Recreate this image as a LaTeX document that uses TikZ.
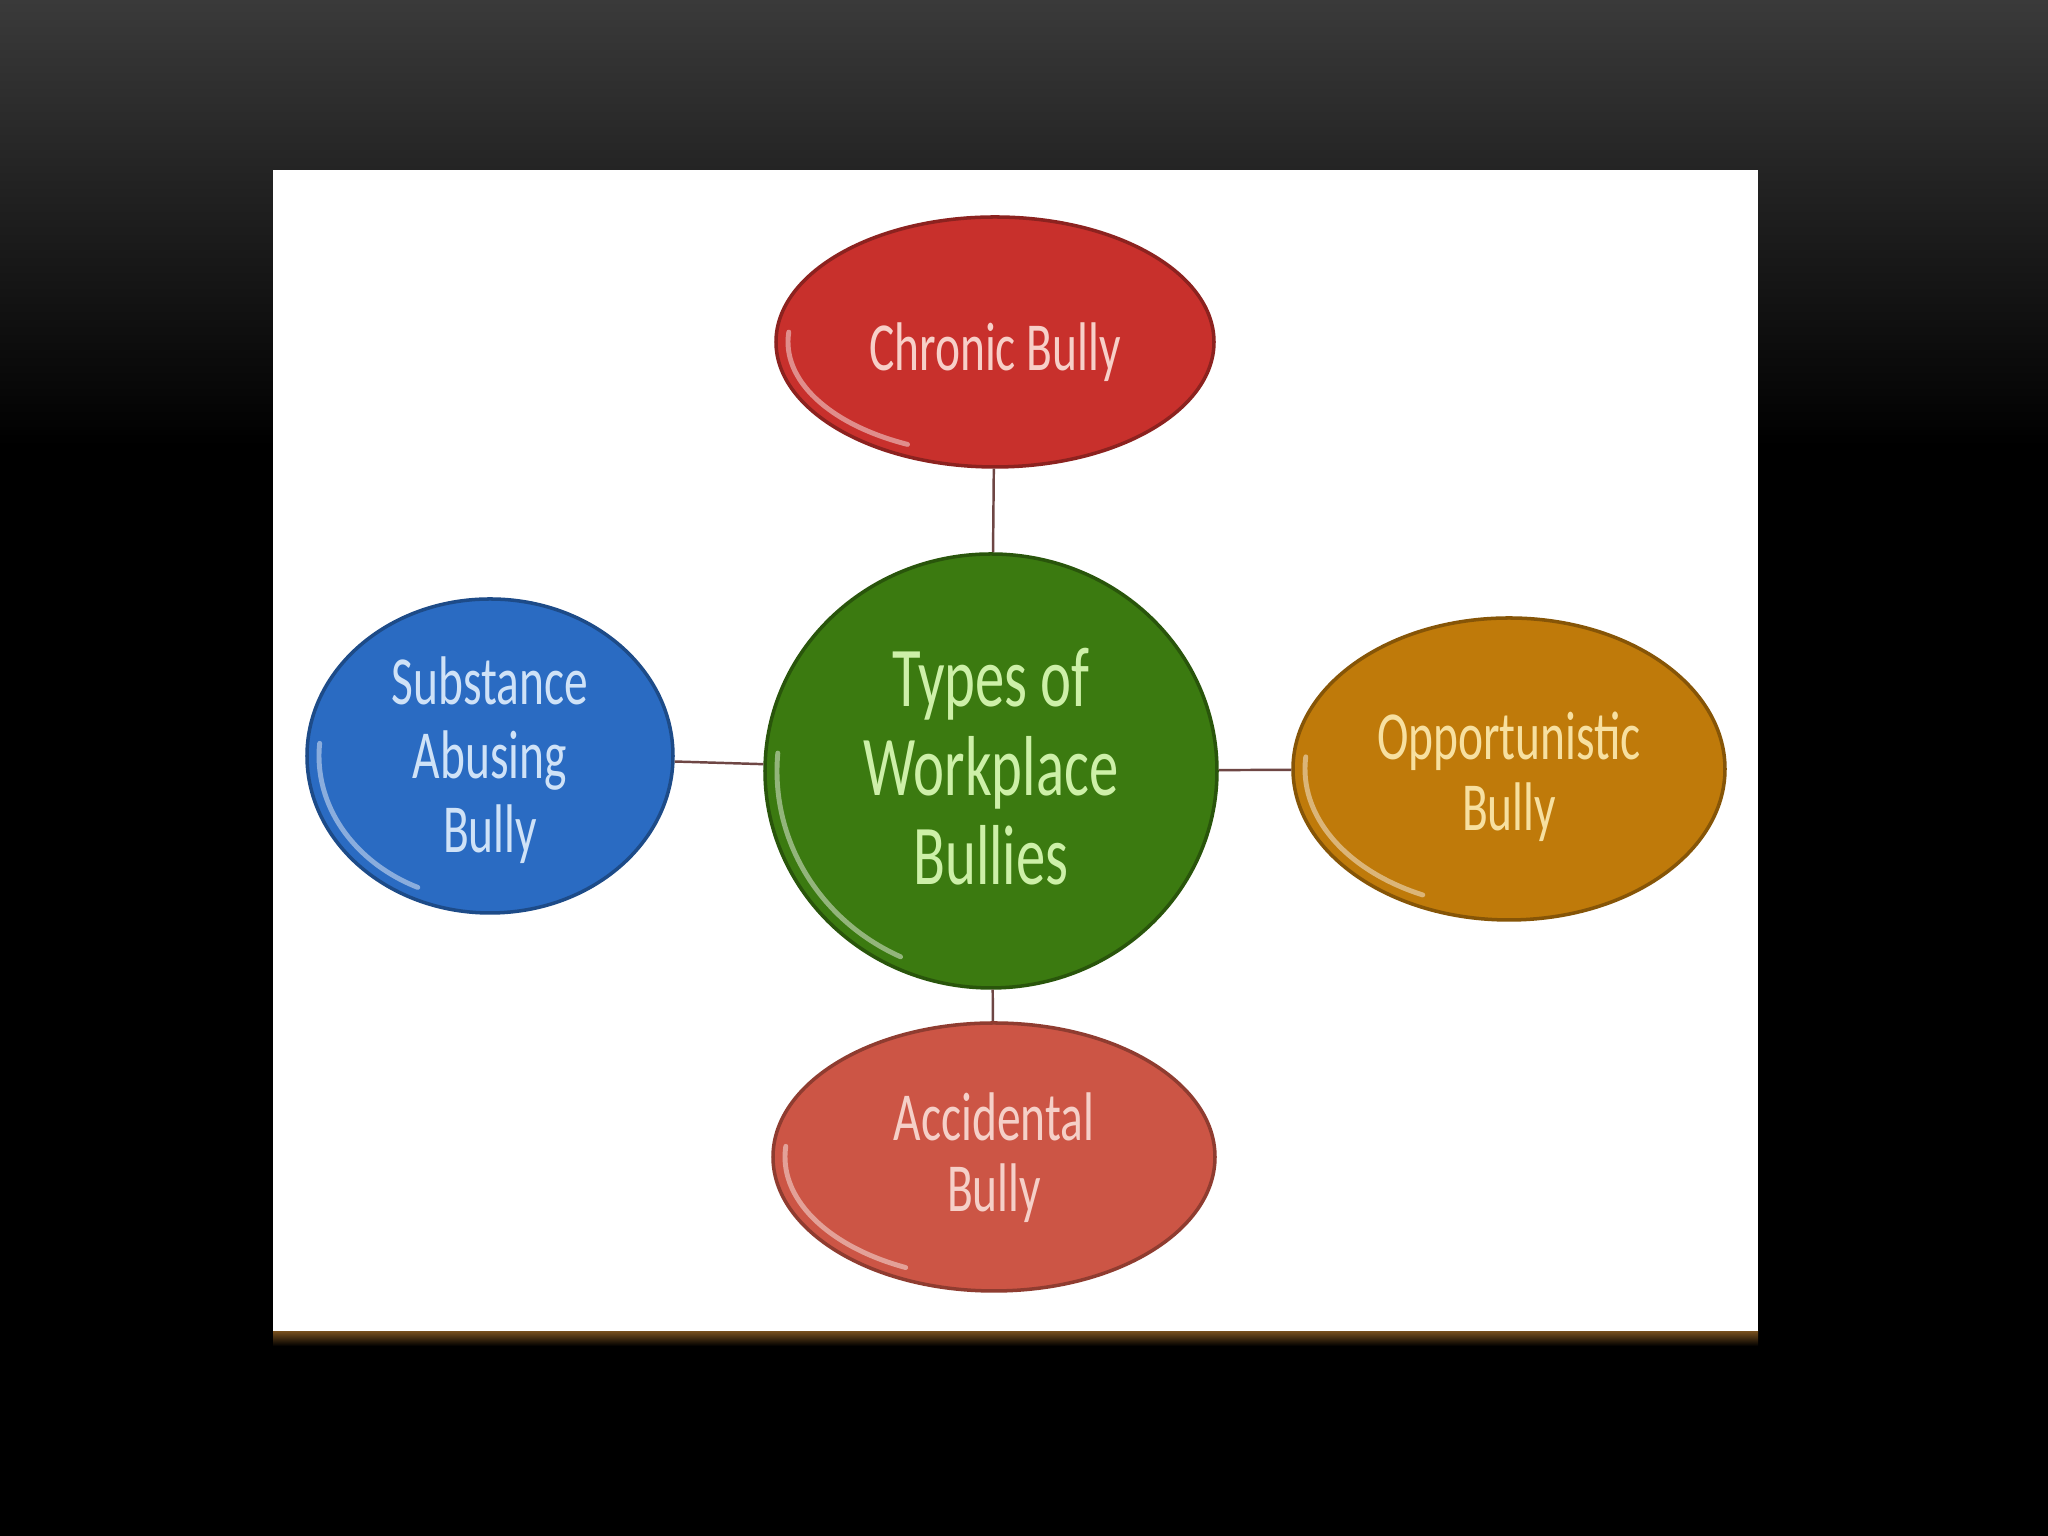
\documentclass[tikz,border=0pt]{standalone}
\usepackage{fontspec}
\setmainfont{Carlito}
\usetikzlibrary{shapes,calc}

\definecolor{chronicred}{RGB}{200,48,44}
\definecolor{chronictxt}{RGB}{247,207,200}
\definecolor{typesgreen}{RGB}{59,122,16}
\definecolor{typestxt}{RGB}{205,240,168}
\definecolor{subblue}{RGB}{42,107,194}
\definecolor{subtxt}{RGB}{207,226,247}
\definecolor{oppgold}{RGB}{191,122,10}
\definecolor{opptxt}{RGB}{247,224,160}
\definecolor{accred}{RGB}{204,85,69}
\definecolor{acctxt}{RGB}{245,208,200}
\definecolor{linkcol}{RGB}{110,70,68}

% text in the picture is drawn a bit tall (and a bit low)
\newcommand{\stretchtxt}[2][1.6mm]{\raisebox{0pt}[\dimexpr\height+#1\relax][\depth]{%
  \scalebox{1}[1.45]{\begin{tabular}{@{}c@{}}#2\end{tabular}}}}

\tikzset{
  bubble/.style n args={4}{ellipse, fill=#1, draw=#1!70!black, line width=1pt,
    text=#2, minimum width=#3, minimum height=#4, inner sep=0pt,
    font=\fontsize{13.5}{13.8}\selectfont,
    path picture={\draw[white, opacity=.45, line width=1.4pt, line cap=round]
      ($(path picture bounding box.center)+(175:{#3/2-0.12cm} and {#4/2-0.12cm})$)
      arc[start angle=175, end angle=245, x radius={#3/2-0.12cm}, y radius={#4/2-0.12cm}];}},
  link/.style={draw=linkcol, line width=0.7pt}
}

\begin{document}
\begin{tikzpicture}
    % slide background
    \useasboundingbox (0,0) rectangle (20.48,15.36);
    \fill[black] (0,0) rectangle (20.48,15.36);
    \shade[top color={rgb,255:red,58;green,58;blue,58}, bottom color=black] (0,15.36) rectangle (20.48,10.9);
    \shade[top color={rgb,255:red,120;green,80;blue,30}, bottom color=black] (2.73,2.05) rectangle (17.58,1.9);
    \fill[white] (2.73,2.05) rectangle (17.58,13.66);

    \node[bubble={typesgreen}{typestxt}{4.52cm}{4.34cm}, font=\fontsize{16.7}{17.5}\selectfont] (types) at (9.91,7.65)
        {\stretchtxt[1.3mm]{Types of\\Workplace\\Bullies}};
    \node[bubble={chronicred}{chronictxt}{4.38cm}{2.50cm}] (chronic) at (9.95,11.94) {\stretchtxt[2.8mm]{Chronic Bully}};
    \node[bubble={subblue}{subtxt}{3.66cm}{3.14cm}, font=\fontsize{13.5}{14.5}\selectfont, inner sep=-2mm] (substance) at (4.90,7.80)
        {\stretchtxt{Substance\\Abusing\\Bully}};
    \node[bubble={oppgold}{opptxt}{4.32cm}{3.02cm}] (opportun) at (15.09,7.67) {\stretchtxt[2.4mm]{Opportunistic\\Bully}};
    \node[bubble={accred}{acctxt}{4.42cm}{2.68cm}] (accident) at (9.94,3.79) {\stretchtxt[1mm]{Accidental\\Bully}};

    \foreach \n in {chronic,substance,opportun,accident}
        \draw[link] (types) -- (\n);
\end{tikzpicture}
\end{document}
